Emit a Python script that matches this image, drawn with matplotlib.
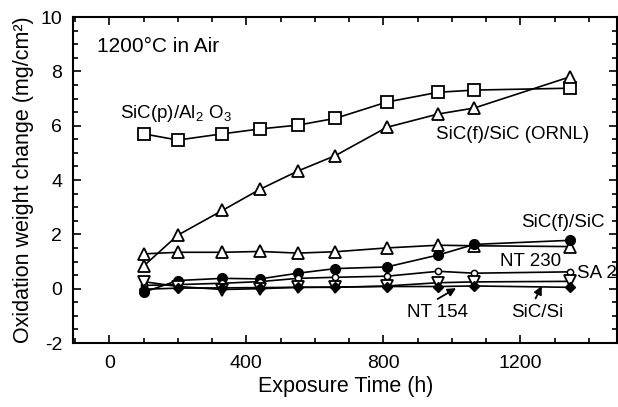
import matplotlib
matplotlib.use("Agg")
import matplotlib.pyplot as plt
from matplotlib.ticker import MultipleLocator

plt.rcParams['font.family'] = ['Liberation Sans', 'DejaVu Sans']
plt.rcParams['mathtext.fontset'] = 'custom'
plt.rcParams['mathtext.rm'] = 'Liberation Sans'
plt.rcParams['axes.unicode_minus'] = False

# Data
time_h = [100, 200, 330, 440, 550, 660, 810, 960, 1065, 1345]
sicp_al2o3 = [5.70, 5.47, 5.70, 5.88, 6.02, 6.27, 6.87, 7.23, 7.31, 7.38]
sicf_sic_ornl = [0.83, 1.97, 2.88, 3.66, 4.33, 4.90, 5.94, 6.43, 6.65, 7.80]
sicf_sic = [1.28, 1.34, 1.34, 1.37, 1.31, 1.36, 1.50, 1.60, 1.58, 1.55]
nt230 = [-0.13, 0.30, 0.38, 0.36, 0.57, 0.74, 0.80, 1.24, 1.63, 1.78]
sa2 = [0.12, 0.15, 0.20, 0.26, 0.38, 0.42, 0.46, 0.64, 0.57, 0.62]
nt154 = [0.26, 0.08, -0.03, 0.00, 0.05, 0.05, 0.10, 0.22, 0.25, 0.27]
sic_si = [-0.02, 0.02, 0.03, 0.04, 0.05, 0.06, 0.08, 0.08, 0.10, 0.05]

x_ticks = [0, 400, 800, 1200]
y_ticks = [-2, 0, 2, 4, 6, 8, 10]

fig = plt.figure(figsize=(6.18, 4.07), dpi=100)
ax = fig.add_axes([0.1186, 0.1572, 0.8800, 0.8010])

lw = 1.2
ax.plot(time_h, sicp_al2o3, color='k', lw=lw, marker='s', ms=8.5, mfc='white', mec='k', mew=1.3)
ax.plot(time_h, sicf_sic_ornl, color='k', lw=lw, marker='^', ms=9, mfc='white', mec='k', mew=1.3)
ax.plot(time_h, sicf_sic, color='k', lw=lw, marker='^', ms=9, mfc='white', mec='k', mew=1.3)
ax.plot(time_h, nt230, color='k', lw=lw, marker='o', ms=7, mfc='k', mec='k')
ax.plot(time_h, sa2, color='k', lw=lw, marker='o', ms=4.5, mfc='white', mec='k', mew=1.1)
ax.plot(time_h, nt154, color='k', lw=lw, marker='v', ms=8, mfc='white', mec='k', mew=1.3)
ax.plot(time_h, sic_si, color='k', lw=lw, marker='D', ms=5.5, mfc='k', mec='k')

ax.set_xlim(-105, 1482)
ax.set_ylim(-2, 10)
ax.set_xticks(x_ticks)
ax.set_yticks(y_ticks)
ax.set_yticklabels([str(v) for v in y_ticks])
ax.xaxis.set_minor_locator(MultipleLocator(100))
ax.yaxis.set_minor_locator(MultipleLocator(0.5))
ax.tick_params(which='both', direction='in', top=True, right=True, width=1.2, labelsize=14)
ax.tick_params(which='major', length=6)
ax.tick_params(which='minor', length=3.5)
ax.tick_params(axis='x', which='major', pad=8.5)
ax.tick_params(axis='y', which='major', pad=8)
for s in ax.spines.values():
    s.set_linewidth(1.5)

ax.set_xlabel('Exposure Time (h)', fontsize=15.5, labelpad=3)
ax.set_ylabel('Oxidation weight change (mg/cm²)', fontsize=15.5, labelpad=4.5)

ax.text(-36, 8.92, '1200°C in Air', fontsize=15, ha='left', va='center')
ax.text(31, 6.28, r'SiC(p)/Al$_\mathregular{2}$ O$_\mathregular{3}$', fontsize=13.5, ha='left', va='baseline')
ax.text(952, 5.52, 'SiC(f)/SiC (ORNL)', fontsize=13.5, ha='left', va='baseline')
ax.text(1202, 2.28, 'SiC(f)/SiC', fontsize=13.5, ha='left', va='baseline')
ax.text(1141, 0.85, 'NT 230', fontsize=13.5, ha='left', va='baseline')
ax.text(1365, 0.40, 'SA 2', fontsize=13.5, ha='left', va='baseline', clip_on=False)
ax.text(869, -1.05, 'NT 154', fontsize=13.5, ha='left', va='baseline')
ax.text(1174, -1.05, 'SiC/Si', fontsize=13.5, ha='left', va='baseline')

arrow = dict(arrowstyle='-|>', lw=1.3, color='k', mutation_scale=12, shrinkA=0, shrinkB=0)
ax.annotate('', xy=(1012, 0.02), xytext=(958, -0.38), arrowprops=arrow)
ax.annotate('', xy=(1262, 0.10), xytext=(1244, -0.36), arrowprops=arrow)

fig.savefig('out.png', dpi=100)
